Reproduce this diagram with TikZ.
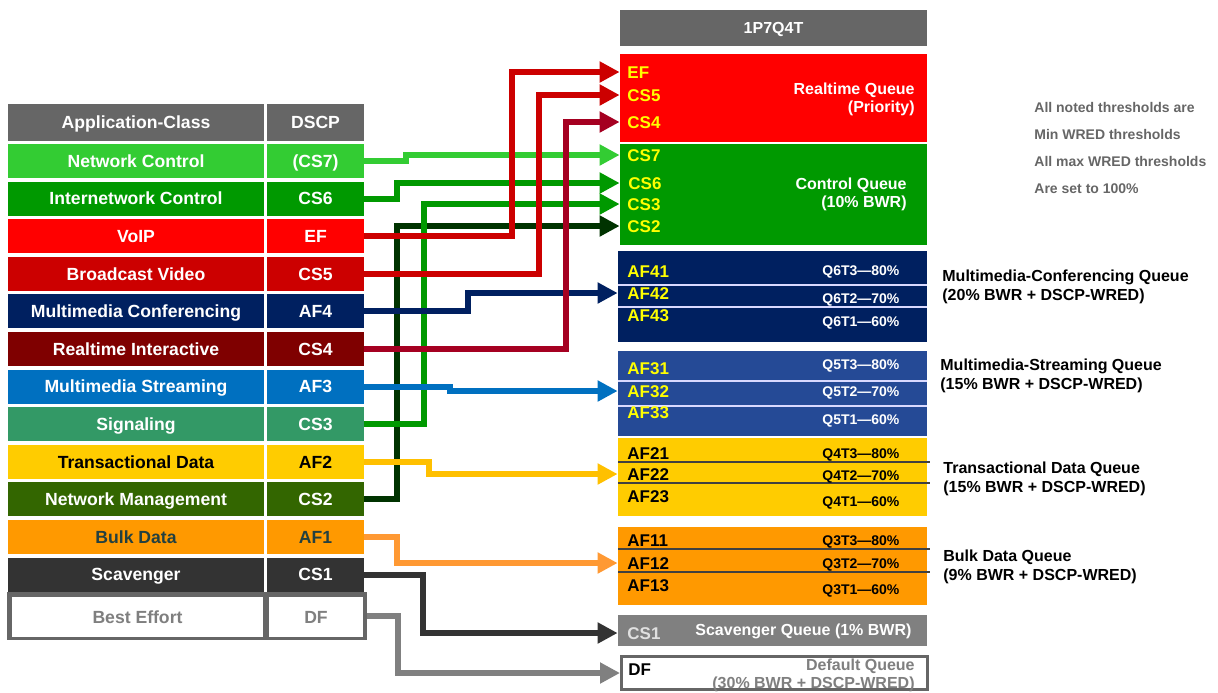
\documentclass[tikz,border=0pt]{standalone}
\usepackage{fontspec}
\setmainfont{Liberation Sans}
\usetikzlibrary{arrows.meta}
\definecolor{hdr}{HTML}{666666}
\definecolor{cNC}{HTML}{33CC33}
\definecolor{cIC}{HTML}{009900}
\definecolor{cVO}{HTML}{FF0000}
\definecolor{cBV}{HTML}{CC0000}
\definecolor{cMMC}{HTML}{002060}
\definecolor{cRI}{HTML}{7F0000}
\definecolor{cMMS}{HTML}{0070C0}
\definecolor{cSIG}{HTML}{339966}
\definecolor{cTD}{HTML}{FFCC00}
\definecolor{cNM}{HTML}{336600}
\definecolor{cBD}{HTML}{FF9900}
\definecolor{cSC}{HTML}{333333}
\definecolor{bulktxt}{HTML}{234040}
\definecolor{begrey}{HTML}{7F7F7F}
\definecolor{qMMSc}{HTML}{254A96}
\definecolor{qSCc}{HTML}{808080}
\definecolor{qyel}{HTML}{FFFF00}
\definecolor{lCSfour}{HTML}{A50021}
\definecolor{lCStwo}{HTML}{003300}
\definecolor{lAFtwo}{HTML}{FFC000}
\definecolor{lAFone}{HTML}{FF9933}
\definecolor{divgrey}{HTML}{404040}
\definecolor{sclab}{HTML}{E0E0E0}
\definecolor{notegrey}{HTML}{666666}
\begin{document}
\begin{tikzpicture}[x=0.5pt,y=-0.5pt,
  cell/.style={inner sep=0, minimum height=17pt, text height=6.3pt, text depth=0pt, font=\fontsize{8.8}{10}\selectfont\bfseries, text=white},
  acell/.style={cell, minimum width=128pt},
  dcell/.style={cell, minimum width=48.5pt},
  qbox/.style={inner sep=0, draw=none},
  qlab/.style={anchor=west, inner sep=0, text height=6.1pt, text depth=0pt, font=\fontsize{8.5}{10}\selectfont\bfseries, text=qyel},
  thr/.style={anchor=west, inner sep=0, text height=5pt, text depth=0pt, font=\fontsize{7}{8}\selectfont\bfseries},
  qname/.style={inner sep=0, font=\fontsize{8}{9}\selectfont\bfseries},
  side/.style={anchor=west, align=left, inner sep=0, font=\fontsize{8}{9.5}\selectfont\bfseries, text=black},
  conn/.style={line width=3pt, -{Triangle[length=10pt,width=10pt]}}
]
\useasboundingbox (0,0) rectangle (1218,692);

% ---------- left table ----------
\node[acell, fill=hdr] (ah) at (136,122.5) [minimum height=18.5pt] {Application-Class};
\node[dcell, fill=hdr] (dh) at (315.5,122.5) [minimum height=18.5pt] {DSCP};
\foreach \i/\nm/\ds/\fc/\tc in {
  1/Network Control/(CS7)/cNC/white,
  2/Internetwork Control/CS6/cIC/white,
  3/VoIP/EF/cVO/white,
  4/Broadcast Video/CS5/cBV/white,
  5/Multimedia Conferencing/AF4/cMMC/white,
  6/Realtime Interactive/CS4/cRI/white,
  7/Multimedia Streaming/AF3/cMMS/white,
  8/Signaling/CS3/cSIG/white,
  9/Transactional Data/AF2/cTD/black,
  10/Network Management/CS2/cNM/white,
  11/Bulk Data/AF1/cBD/bulktxt,
  12/Scavenger/CS1/cSC/white}{
  \pgfmathsetmacro\yc{161+37.6*(\i-1)}
  \node[acell, fill=\fc, text=\tc] (a\i) at (136,\yc) {\nm};
  \node[dcell, fill=\fc, text=\tc] (d\i) at (315.5,\yc) {\ds};
}
\node[qbox, fill=hdr, minimum width=180pt, minimum height=24pt] (beo) at (187,616) {};
\node[acell, fill=white, text=begrey, minimum width=125.5pt, minimum height=20pt] (a13) at (137.5,617) {Best Effort};
\node[dcell, fill=white, text=begrey, minimum width=47pt, minimum height=20pt] (d13) at (316,617) {DF};

% ---------- queues ----------
\node[qbox, fill=hdr, minimum width=153.5pt, minimum height=18pt, text height=5.8pt, text depth=0pt, text=white, font=\fontsize{8}{9}\selectfont\bfseries] (qHead) at (773.5,28) {1P7Q4T};
\node[qbox, fill=cVO, minimum width=153.5pt, minimum height=44pt] (qRT) at (773.5,98) {};
\node[qbox, fill=cIC, minimum width=153.5pt, minimum height=50.5pt] (qCtl) at (773.5,194.5) {};
\node[qbox, fill=cMMC, minimum width=154.5pt, minimum height=45.5pt] (qMMC) at (772.5,296.5) {};
\node[qbox, fill=qMMSc, minimum width=154.5pt, minimum height=42.5pt] (qMMS) at (772.5,393.5) {};
\node[qbox, fill=cTD, minimum width=154.5pt, minimum height=39pt] (qTD) at (772.5,477) {};
\node[qbox, fill=cBD, minimum width=154.5pt, minimum height=39pt] (qBD) at (772.5,566) {};
\node[qbox, fill=qSCc, minimum width=154.5pt, minimum height=15.5pt] (qSC) at (772.5,630.5) {};
\node[inner sep=0, draw=hdr, line width=1.5pt, fill=white, minimum width=153pt, minimum height=16.5pt] (qDF) at (774.5,673) {};

% dividers
\draw[white!85!blue, line width=0.6pt] (618,285) -- (927,285) (618,307) -- (927,307);
\draw[white!85!blue, line width=0.6pt] (618,381) -- (927,381) (618,406) -- (927,406);
\draw[divgrey, line width=0.6pt] (618,462) -- (930,462) (618,483) -- (930,483);
\draw[divgrey, line width=0.6pt] (618,549) -- (930,549) (618,572) -- (930,572);

% DSCP labels in queues
\node[qlab] (lEF) at (627,72) {EF};
\node[qlab] (lCS5) at (627,95) {CS5};
\node[qlab] (lCS4) at (627,122) {CS4};
\node[qlab] (lCS7) at (627,155) {CS7};
\node[qlab] (lCS6) at (628,183) {CS6};
\node[qlab] (lCS3) at (627,204) {CS3};
\node[qlab] (lCS2) at (627,226) {CS2};
\node[qlab] (lAF41) at (627,271) {AF41};
\node[qlab] (lAF42) at (627,293) {AF42};
\node[qlab] (lAF43) at (627,315) {AF43};
\node[qlab] (lAF31) at (627,368) {AF31};
\node[qlab] (lAF32) at (627,391) {AF32};
\node[qlab] (lAF33) at (627,412) {AF33};
\node[qlab, text=black] (lAF21) at (627,453) {AF21};
\node[qlab, text=black] (lAF22) at (627,474) {AF22};
\node[qlab, text=black] (lAF23) at (627,496) {AF23};
\node[qlab, text=black] (lAF11) at (627,540) {AF11};
\node[qlab, text=black] (lAF12) at (627,563) {AF12};
\node[qlab, text=black] (lAF13) at (627,585) {AF13};
\node[qlab, text=sclab] (lSC1) at (627,633) {CS1};
\node[qlab, text=black] (lDF) at (628,669) {DF};

% thresholds
\node[thr, text=white] (t63) at (822,270) {Q6T3—80\%};
\node[thr, text=white] (t62) at (822,298) {Q6T2—70\%};
\node[thr, text=white] (t61) at (822,321) {Q6T1—60\%};
\node[thr, text=white] (t53) at (822,364) {Q5T3—80\%};
\node[thr, text=white] (t52) at (822,391) {Q5T2—70\%};
\node[thr, text=white] (t51) at (822,419) {Q5T1—60\%};
\node[thr, text=black] (t43) at (822,453) {Q4T3—80\%};
\node[thr, text=black] (t42) at (822,475) {Q4T2—70\%};
\node[thr, text=black] (t41) at (822,501) {Q4T1—60\%};
\node[thr, text=black] (t33) at (822,540) {Q3T3—80\%};
\node[thr, text=black] (t32) at (822,563) {Q3T2—70\%};
\node[thr, text=black] (t31) at (822,589) {Q3T1—60\%};

% queue names
\node[qname, anchor=east, align=right, text=white] (nRT) at (915,99) {Realtime Queue\\(Priority)};
\node[qname, anchor=east, align=right, text=white] (nCtl) at (907,194) {Control Queue\\(10\% BWR)};
\node[qname, anchor=west, text=white] (nSC) at (695,631) {Scavenger Queue (1\% BWR)};
\node[qname, anchor=east, align=right, text=begrey] (nDF) at (915,675) {Default Queue\\(30\% BWR + DSCP-WRED)};

\node[side] (sMMC) at (942,286.5) {Multimedia-Conferencing Queue\\(20\% BWR + DSCP-WRED)};
\node[side] (sMMS) at (940,376) {Multimedia-Streaming Queue\\(15\% BWR + DSCP-WRED)};
\node[side] (sTD) at (943,479) {Transactional Data Queue\\(15\% BWR + DSCP-WRED)};
\node[side] (sBD) at (943,567) {Bulk Data Queue\\(9\% BWR + DSCP-WRED)};

\node[anchor=west, align=left, inner sep=0, text=notegrey, font=\fontsize{7}{13.5}\selectfont\bfseries] (notes) at (1034,147.5)
  {All noted thresholds are\\Min WRED thresholds\\All max WRED thresholds\\Are set to 100\%};

% ---------- connectors ----------
\draw[conn, lCStwo] (d10.east) -- ++(33,0) |- (qCtl.west |- lCS2);
\draw[conn, cIC] (d8.east) -- ++(60,0) |- (qCtl.west |- lCS3);
\draw[conn, cIC] (d2.east) -- ++(33,0) |- (qCtl.west |- lCS6);
\draw[conn, cNC] (d1.east) -- ++(42,0) |- (qCtl.west |- lCS7);
\draw[conn, cMMC] (d5.east) -- ++(104,0) |- (qMMC.west |- lAF42);
\draw[conn, cMMS] (d7.east) -- ++(86,0) |- (qMMS.west |- lAF32);
\draw[conn, lAFtwo] (d9.east) -- ++(65,0) |- (qTD.west |- lAF22);
\draw[conn, lAFone] (d11.east) -- ++(33,0) |- (qBD.west |- lAF12);
\draw[conn, cSC] (d12.east) -- ++(59,0) |- (qSC.west |- lSC1);
\draw[conn, qSCc] (beo.east) -- ++(31,0) |- (qDF.west);
\draw[conn, lCSfour] (d6.east) -- ++(202,0) |- (qRT.west |- lCS4);
\draw[conn, cBV] (d4.east) -- ++(175,0) |- (qRT.west |- lCS5);
\draw[conn, cBV] (d3.east) -- ++(148,0) |- (qRT.west |- lEF);
\end{tikzpicture}
\end{document}
